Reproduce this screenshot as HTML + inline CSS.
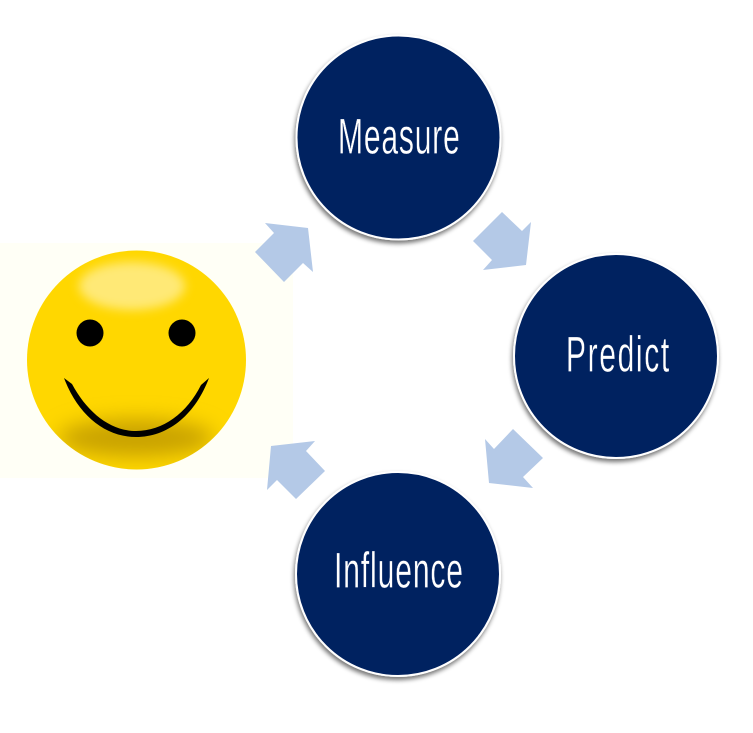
<!DOCTYPE html>
<html>
<head>
<meta charset="utf-8">
<style>
html,body{margin:0;padding:0;background:#fff;width:753px;height:733px;overflow:hidden}
svg{display:block}
text{font-family:"Liberation Sans",sans-serif;fill:#fff;font-size:50px;stroke:#012060;stroke-width:.35px;paint-order:fill stroke}
</style>
</head>
<body>
<svg width="753" height="733" viewBox="0 0 753 733" xmlns="http://www.w3.org/2000/svg">
<defs>
<filter id="ds" x="-20%" y="-20%" width="140%" height="140%">
<feGaussianBlur in="SourceAlpha" stdDeviation="2.5"/>
<feOffset dx="-1" dy="3"/>
<feComponentTransfer><feFuncA type="linear" slope="0.55"/></feComponentTransfer>
<feMerge><feMergeNode/><feMergeNode in="SourceGraphic"/></feMerge>
</filter>
<filter id="b6" x="-40%" y="-80%" width="180%" height="260%"><feGaussianBlur stdDeviation="10"/></filter>
<filter id="b3" x="-40%" y="-60%" width="180%" height="220%"><feGaussianBlur stdDeviation="5"/></filter>
<clipPath id="face"><circle cx="136.5" cy="360" r="109.5"/></clipPath>
</defs>

<rect x="0" y="243" width="293" height="235" fill="#fffff6"/>

<!-- Smiley -->
<circle cx="136.5" cy="360" r="109.5" fill="#ffd700"/>
<g clip-path="url(#face)">
<ellipse cx="136" cy="438" rx="78" ry="19" fill="#c9a300" filter="url(#b6)"/>
<ellipse cx="132" cy="286" rx="53" ry="24" fill="#ffe976" filter="url(#b3)"/>
</g>
<circle cx="90" cy="333" r="13.5" fill="#000"/>
<circle cx="182" cy="333" r="13.5" fill="#000"/>
<path d="M64 378 L72 384 C87 412 110 431 136 431 C163 431 187 413 201 385 L209 378 C195 415 168 437 136 437 C105 437 78 415 64 378 Z" fill="#000"/>

<!-- Arrows -->
<g fill="#b4c9e7">
<polygon points="265,223 308,228 313,272 303,263 284,282 255,252 274,233"/>
<polygon points="502,212 522,231 531,222 526,265 483,270 492,260 473,241"/>
<polygon points="513,429 543,458 523,477 533,488 489,483 485,439 494,449"/>
<polygon points="315,441 306,451 325,471 296,499 277,480 267,490 271,446"/>
</g>

<!-- Circles -->
<g fill="#012060" stroke="#fff" stroke-width="2" filter="url(#ds)">
<circle cx="398.5" cy="137.5" r="102"/>
<circle cx="616" cy="356" r="102"/>
<circle cx="398" cy="574" r="102"/>
</g>

<text transform="translate(338 153.500) scale(.6 1)" textLength="203" lengthAdjust="spacing">Measure</text>
<text transform="translate(566 371.500) scale(.6 1)" textLength="172" lengthAdjust="spacing">Predict</text>
<text transform="translate(334 587.500) scale(.6 1)" textLength="215" lengthAdjust="spacing">Influence</text>
</svg>
</body>
</html>
